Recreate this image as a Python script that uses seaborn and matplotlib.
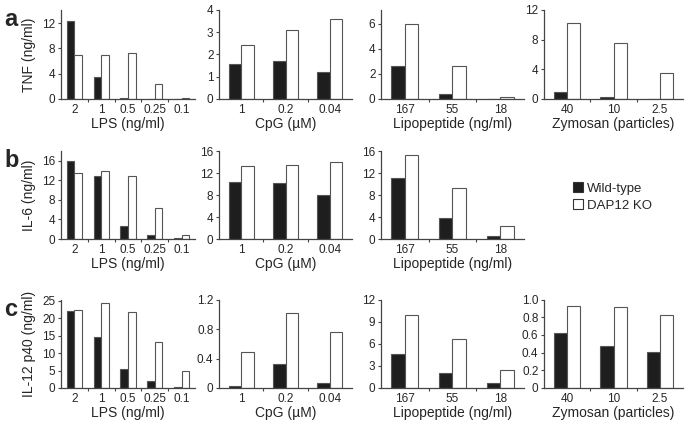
import matplotlib
matplotlib.use("Agg")
import matplotlib.pyplot as plt
import matplotlib.patches as mpatches
import pandas as pd
import seaborn as sns

# doses (x categories)
lps_doses = ["2", "1", "0.5", "0.25", "0.1"]
cpg_doses = ["1", "0.2", "0.04"]
lipo_doses = ["167", "55", "18"]
zym_doses = ["40", "10", "2.5"]

genotypes = ["Wild-type", "DAP12 KO"]

# a: TNF (ng/ml)
tnf_lps_wt = [12.3, 3.4, 0.1, 0.0, 0.0]
tnf_lps_ko = [6.9, 6.9, 7.2, 2.4, 0.1]
tnf_cpg_wt = [1.55, 1.72, 1.2]
tnf_cpg_ko = [2.42, 3.1, 3.58]
tnf_lipo_wt = [2.6, 0.35, 0.0]
tnf_lipo_ko = [6.0, 2.65, 0.15]
tnf_zym_wt = [0.9, 0.25, 0.0]
tnf_zym_ko = [10.2, 7.6, 3.5]

# b: IL-6 (ng/ml)
il6_lps_wt = [16.0, 12.9, 2.7, 0.8, 0.2]
il6_lps_ko = [13.5, 13.9, 12.9, 6.3, 0.9]
il6_cpg_wt = [10.3, 10.1, 8.0]
il6_cpg_ko = [13.3, 13.5, 14.0]
il6_lipo_wt = [11.1, 3.8, 0.5]
il6_lipo_ko = [15.2, 9.2, 2.4]

# c: IL-12 p40 (ng/ml)
il12_lps_wt = [22.0, 14.5, 5.5, 1.9, 0.4]
il12_lps_ko = [22.4, 24.3, 21.6, 13.1, 4.9]
il12_cpg_wt = [0.03, 0.32, 0.07]
il12_cpg_ko = [0.49, 1.02, 0.76]
il12_lipo_wt = [4.6, 2.0, 0.7]
il12_lipo_ko = [9.9, 6.6, 2.4]
il12_zym_wt = [0.62, 0.47, 0.41]
il12_zym_ko = [0.93, 0.92, 0.83]

xlabels = ["LPS (ng/ml)", "CpG (\u00b5M)", "Lipopeptide (ng/ml)", "Zymosan (particles)"]
ylabels = ["TNF (ng/ml)", "IL-6 (ng/ml)", "IL-12 p40 (ng/ml)"]
row_letters = ["a", "b", "c"]

# (row, col, doses, wt, ko, ymax, yticks, fmt)
panels = [
    (0, 0, lps_doses, tnf_lps_wt, tnf_lps_ko, 14.1, [0, 4, 8, 12], "{:g}"),
    (0, 1, cpg_doses, tnf_cpg_wt, tnf_cpg_ko, 4.0, [0, 1, 2, 3, 4], "{:g}"),
    (0, 2, lipo_doses, tnf_lipo_wt, tnf_lipo_ko, 7.1, [0, 2, 4, 6], "{:g}"),
    (0, 3, zym_doses, tnf_zym_wt, tnf_zym_ko, 12.0, [0, 4, 8, 12], "{:g}"),
    (1, 0, lps_doses, il6_lps_wt, il6_lps_ko, 18.0, [0, 4, 8, 12, 16], "{:g}"),
    (1, 1, cpg_doses, il6_cpg_wt, il6_cpg_ko, 16.0, [0, 4, 8, 12, 16], "{:g}"),
    (1, 2, lipo_doses, il6_lipo_wt, il6_lipo_ko, 16.0, [0, 4, 8, 12, 16], "{:g}"),
    (2, 0, lps_doses, il12_lps_wt, il12_lps_ko, 25.3, [0, 5, 10, 15, 20, 25], "{:g}"),
    (2, 1, cpg_doses, il12_cpg_wt, il12_cpg_ko, 1.2, [0, 0.4, 0.8, 1.2], "{:.1f}"),
    (2, 2, lipo_doses, il12_lipo_wt, il12_lipo_ko, 12.0, [0, 3, 6, 9, 12], "{:g}"),
    (2, 3, zym_doses, il12_zym_wt, il12_zym_ko, 1.0, [0, 0.2, 0.4, 0.6, 0.8, 1.0], "{:.1f}"),
]

W, H = 689, 426
col_px = [(61, 195), (219, 352), (381, 524), (544, 683)]
row_px = [(10, 98.7), (151, 239), (299.5, 388)]

sns.set_style("ticks")
plt.rcParams["font.family"] = ["Liberation Sans", "DejaVu Sans"]

palette = {"Wild-type": "#1e1e1e", "DAP12 KO": "white"}
axis_color = "#444444"

fig = plt.figure(figsize=(W / 100, H / 100), dpi=100)

for row, col, doses, wt, ko, ymax, yticks, fmt in panels:
    x0, x1 = col_px[col]
    top, bottom = row_px[row]
    ax = fig.add_axes([x0 / W, 1 - bottom / H, (x1 - x0) / W, (bottom - top) / H])

    df = pd.DataFrame({
        "dose": doses * 2,
        "value": wt + ko,
        "genotype": [genotypes[0]] * len(doses) + [genotypes[1]] * len(doses),
    })
    sns.barplot(
        data=df,
        x="dose",
        y="value",
        hue="genotype",
        order=doses,
        hue_order=genotypes,
        palette=palette,
        width=0.57,
        edgecolor="#555555",
        linewidth=0.8,
        legend=False,
        ax=ax,
    )

    ax.set_xlim(-0.5, len(doses) - 0.5)
    ax.set_ylim(0, ymax)
    ax.set_yticks(yticks)
    ax.set_yticklabels(["0" if v == 0 else fmt.format(v) for v in yticks])

    # ticks between categories on x
    ax.tick_params(axis="x", which="major", length=0, pad=3.5, labelsize=8.5)
    ax.set_xticks([i + 0.5 for i in range(len(doses) - 1)], minor=True)
    ax.tick_params(axis="x", which="minor", length=2.5, width=0.8, color=axis_color)
    ax.tick_params(axis="y", length=2.5, width=0.8, pad=1.5, color=axis_color, labelsize=8.5)

    sns.despine(ax=ax)
    for side in ["left", "bottom"]:
        ax.spines[side].set_color(axis_color)
        ax.spines[side].set_linewidth(0.9)

    ax.set_xlabel(xlabels[col], fontsize=10, labelpad=1)
    if col == 0:
        ax.set_ylabel(ylabels[row], fontsize=10)
        ax.yaxis.set_label_coords(-0.185, 0.5)
    else:
        ax.set_ylabel("")

# panel letters
for (top, bottom), letter in zip(row_px, row_letters):
    fig.text(4 / W, 1 - (top + 16) / H, letter, fontsize=17, fontweight="bold",
             va="baseline", ha="left")

handles = [
    mpatches.Patch(facecolor=palette[g], edgecolor="#333333", linewidth=0.8, label=g)
    for g in genotypes
]
fig.legend(
    handles=handles,
    loc="center left",
    bbox_to_anchor=(561 / W, 1 - 197 / H),
    frameon=False,
    fontsize=9.5,
    handlelength=0.8,
    handleheight=0.8,
    handletextpad=0.3,
    labelspacing=0.35,
)

plt.savefig("out.png", dpi=100)
plt.close()
